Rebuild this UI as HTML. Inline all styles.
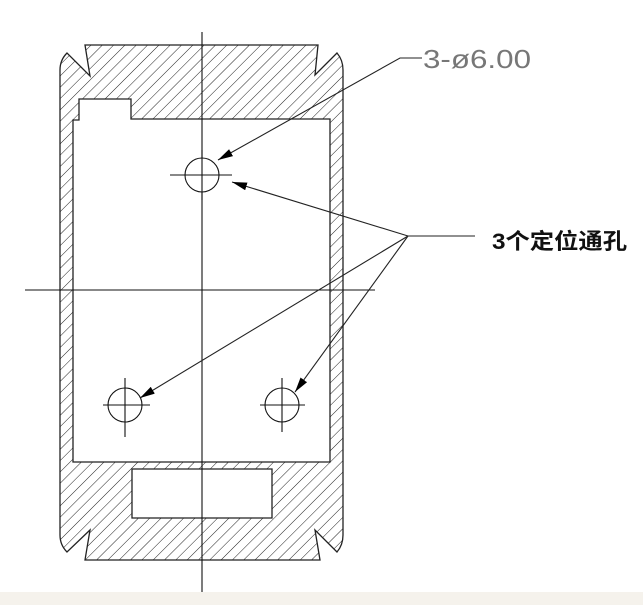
<!DOCTYPE html>
<html><head><meta charset="utf-8"><style>
html,body{margin:0;padding:0;background:#fff;}
svg{display:block;}
</style></head><body>
<svg width="643" height="605" viewBox="0 0 643 605" xmlns="http://www.w3.org/2000/svg">
<defs>
<pattern id="h" patternUnits="userSpaceOnUse" width="8" height="8" patternTransform="rotate(45)">
<line x1="0" y1="0" x2="0" y2="8" stroke="#222" stroke-width="1"/>
</pattern>
<marker id="a" markerWidth="15" markerHeight="8" refX="15" refY="4" orient="auto" markerUnits="userSpaceOnUse">
<path d="M0,0 L15,4 L0,8 Z" fill="#000"/>
</marker>
</defs>
<rect x="0" y="0" width="643" height="605" fill="#fff"/>
<rect x="0" y="592" width="643" height="13" fill="#f5f2ec"/>
<path fill="url(#h)" fill-rule="evenodd" stroke="#222" stroke-width="1.3"
 d="M85,45 L318,45 L315,75 L337,53 Q343,60 343,70 L343,535 Q343,545 337,552 L315,530 L320,560 L85,560 L90,530 L67,552 Q60,545 60,535 L60,70 Q60,60 67,53 L90,76 Z
 M79,99 L131,99 L131,119 L330,119 L330,462 L73,462 L73,120 L79,120 Z
 M132,469 L272,469 L272,518 L132,518 Z"/>
<g stroke="#111" stroke-width="1.1" fill="none">
<line x1="202" y1="32" x2="202" y2="592"/>
<line x1="25" y1="290" x2="375" y2="290"/>
<circle cx="202" cy="175" r="17" fill="#fff"/>
<line x1="170" y1="175" x2="232" y2="175"/>
<line x1="202" y1="150" x2="202" y2="200"/>
<circle cx="125" cy="405" r="17"/>
<line x1="103" y1="405" x2="150" y2="405"/>
<line x1="125" y1="378" x2="125" y2="437"/>
<circle cx="282" cy="405" r="17"/>
<line x1="260" y1="405" x2="305" y2="405"/>
<line x1="282" y1="378" x2="282" y2="432"/>
</g>
<g stroke="#222" stroke-width="1.1" fill="none">
<polyline points="422,58 400,58 218,160" marker-end="url(#a)"/>
<line x1="475" y1="236" x2="408" y2="236"/>
<line x1="408" y1="236" x2="232" y2="182" marker-end="url(#a)"/>
<line x1="408" y1="236" x2="140" y2="398" marker-end="url(#a)"/>
<line x1="408" y1="236" x2="295" y2="392" marker-end="url(#a)"/>
</g>
<text x="423" y="68" font-family="Liberation Sans Narrow, Liberation Sans, sans-serif" font-size="26" fill="#777" textLength="108" lengthAdjust="spacingAndGlyphs">3-ø6.00</text>
<text x="492" y="249" font-family="Liberation Sans, 'Noto Sans CJK SC', sans-serif" font-size="22" font-weight="bold" fill="#111" textLength="135" lengthAdjust="spacingAndGlyphs">3个定位通孔</text>
</svg>
</body></html>
